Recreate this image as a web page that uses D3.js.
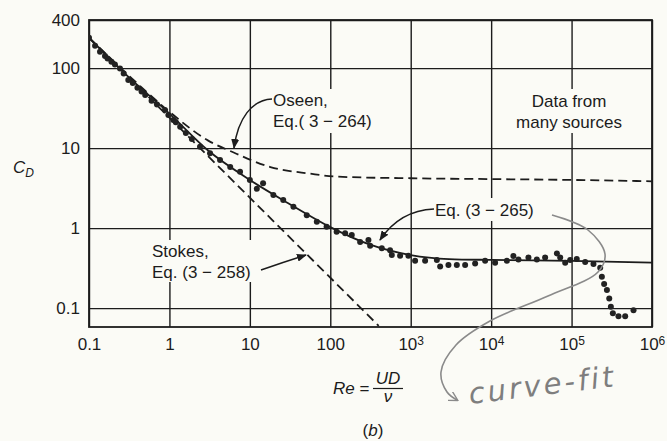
<!DOCTYPE html>
<html>
<head>
<meta charset="utf-8">
<script src="https://cdn.jsdelivr.net/npm/d3@7"></script>
<style>
  body { margin: 0; background: #fbfbf6; }
  svg { display: block; font-family: "Liberation Sans", Arial, Helvetica, sans-serif; }
</style>
</head>
<body>
<script>
var w = 667, h = 441;
var plot = { left: 89, right: 652, top: 20, bottom: 327 };
var bg = '#fbfbf6', ink = '#1c1c1c';

// axis ticks
var reTicks = [0.1, 1, 10, 100, 1e3, 1e4, 1e5, 1e6];
var cdTicks = [0.1, 1, 10, 100, 400];

var dataRe = [0.1, 0.119, 0.137, 0.158, 0.17, 0.19, 0.21, 0.243, 0.27, 0.308, 0.35, 0.4, 0.45, 0.5, 0.6, 0.7, 0.88, 0.97,
  1.12, 1.2, 1.36, 1.6, 1.9, 2.4, 3.2, 4.26, 5.7, 7.55, 10, 12.2, 14.6, 19.6, 26, 34.8, 51, 68, 90, 120,
  153, 185, 235, 298, 313, 437, 554, 582, 738, 936, 1134, 1510, 2113, 2323, 2945, 3743, 4750, 6325,
  8414, 11200, 15700, 18900, 21860, 29100, 37000, 46900, 65700, 72200, 83300, 96100, 116000, 147600,
  187200, 227000, 238000, 254000, 275000, 294000, 308000, 326000, 383000, 464000, 589000];
var dataCd = [240, 190, 160, 142, 132, 120, 111, 99, 86, 71, 65, 57, 51, 46, 39, 35, 30, 26,
  22.4, 21, 18.5, 15.5, 13, 10.4, 8.6, 7.1, 5.8, 5.05, 4.0, 3.1, 3.65, 2.6, 2.24, 1.85, 1.45, 1.2, 1.04, 0.90,
  0.86, 0.82, 0.67, 0.71, 0.60, 0.56, 0.53, 0.46, 0.45, 0.45, 0.39, 0.39, 0.40, 0.33, 0.345, 0.345, 0.345, 0.36,
  0.39, 0.37, 0.39, 0.447, 0.406, 0.43, 0.406, 0.43, 0.483, 0.43, 0.37, 0.40, 0.41, 0.376,
  0.355, 0.32, 0.246, 0.20, 0.168, 0.132, 0.104, 0.086, 0.079, 0.079, 0.094];

// Eq. (3-265) curve fit
var fitRe = [0.1, 0.3, 1, 3, 10, 30, 100, 300, 1e3, 3e3, 1e4, 1e5, 1e6];
var fitCd = [240, 80, 27, 9.4, 4.0, 2.05, 1.03, 0.63, 0.46, 0.41, 0.40, 0.39, 0.37];

// Oseen, Eq. (3-264)
var oseenRe = [0.1, 0.3, 1, 3, 6, 18, 56, 120, 1e3, 1e4, 1e5, 1e6];
var oseenCd = [240, 84, 28.5, 12.5, 9, 5.8, 4.8, 4.4, 4.2, 4.1, 4.0, 3.85];

// Stokes, Eq. (3-258)
var stokesRe = [0.1, 400];
var stokesCd = [240, 0.06];

var svg = d3.select('body').append('svg').attr('width', w).attr('height', h);

var x = d3.scaleLog().domain([0.1, 1e6]).range([plot.left, plot.right]);
var y = d3.scaleLog().domain([0.058, 400]).range([plot.bottom, plot.top]);

svg.append('defs').append('clipPath').attr('id', 'clip')
  .append('rect')
  .attr('x', plot.left).attr('y', plot.top)
  .attr('width', plot.right - plot.left).attr('height', plot.bottom - plot.top);

svg.select('defs').append('marker')
  .attr('id', 'arrow')
  .attr('viewBox', '0 0 10 8')
  .attr('refX', 9).attr('refY', 4)
  .attr('markerWidth', 10).attr('markerHeight', 8)
  .attr('markerUnits', 'userSpaceOnUse')
  .attr('orient', 'auto')
  .append('path').attr('d', 'M0,0 L10,4 L0,8 z').style('fill', ink);

svg.select('defs').append('marker')
  .attr('id', 'pencilArrow')
  .attr('viewBox', '0 0 10 10')
  .attr('refX', 8).attr('refY', 5)
  .attr('markerWidth', 10).attr('markerHeight', 10)
  .attr('markerUnits', 'userSpaceOnUse')
  .attr('orient', 'auto')
  .append('path').attr('d', 'M0,0 L9,5 L0,10').style('fill', 'none').style('stroke', '#8a8a8a').style('stroke-width', 1.4);

// grid + tick labels
var xAxis = d3.axisBottom(x)
  .tickValues(reTicks)
  .tickSize(-(plot.bottom - plot.top))
  .tickSizeOuter(0)
  .tickPadding(11);

var gx = svg.append('g')
  .attr('transform', 'translate(0,' + plot.bottom + ')')
  .call(xAxis);

gx.selectAll('.tick text').each(function (d) {
  var t = d3.select(this);
  if (d >= 1000) {
    t.text('10');
    t.append('tspan').attr('dy', '-0.45em').attr('font-size', '12px').text(Math.round(Math.log10(d)));
  } else {
    t.text(d3.format('~g')(d));
  }
});

var yAxis = d3.axisLeft(y)
  .tickValues(cdTicks)
  .tickSize(-(plot.right - plot.left))
  .tickSizeOuter(0)
  .tickPadding(9)
  .tickFormat(d3.format('~g'));

var gy = svg.append('g')
  .attr('transform', 'translate(' + plot.left + ',0)')
  .call(yAxis);

[gx, gy].forEach(function (g) {
  g.select('.domain').remove();
  g.selectAll('.tick line').style('stroke', ink).style('stroke-width', 1.4);
  g.selectAll('.tick text').style('fill', ink).style('font-size', '17px');
});

svg.append('rect')
  .attr('x', plot.left).attr('y', plot.top)
  .attr('width', plot.right - plot.left).attr('height', plot.bottom - plot.top)
  .style('fill', 'none').style('stroke', ink).style('stroke-width', 1.8);

// white-out behind the labels (grid is broken there in the figure)
var boxes = [
  [268, 89, 120, 44],
  [512, 89, 115, 44],
  [148, 240, 116, 42],
  [430, 198, 122, 23]
];
svg.selectAll('rect.labelbg')
  .data(boxes)
  .enter()
  .append('rect')
  .attr('class', 'labelbg')
  .attr('x', function (d) { return d[0]; })
  .attr('y', function (d) { return d[1]; })
  .attr('width', function (d) { return d[2]; })
  .attr('height', function (d) { return d[3]; })
  .style('fill', bg);

var lines = svg.append('g').attr('clip-path', 'url(#clip)');

function pts(xs, ys) {
  return xs.map(function (v, i) { return [v, ys[i]]; });
}

var line = d3.line()
  .x(function (d) { return x(d[0]); })
  .y(function (d) { return y(d[1]); })
  .curve(d3.curveMonotoneX);

lines.append('path')
  .datum(pts(stokesRe, stokesCd))
  .attr('d', line)
  .style('fill', 'none').style('stroke', ink).style('stroke-width', 1.8)
  .style('stroke-dasharray', '9,5');

lines.append('path')
  .datum(pts(oseenRe, oseenCd))
  .attr('d', line)
  .style('fill', 'none').style('stroke', ink).style('stroke-width', 1.8)
  .style('stroke-dasharray', '9,5');

lines.append('path')
  .datum(pts(fitRe, fitCd))
  .attr('d', line)
  .style('fill', 'none').style('stroke', ink).style('stroke-width', 1.8);

lines.selectAll('circle.obs')
  .data(pts(dataRe, dataCd))
  .enter()
  .append('circle')
  .attr('class', 'obs')
  .attr('cx', function (d) { return x(d[0]); })
  .attr('cy', function (d) { return y(d[1]); })
  .attr('r', 3)
  .style('fill', '#222');

// annotations
function label(tx, ty, rows) {
  var t = svg.append('text')
    .attr('x', tx).attr('y', ty)
    .style('font-size', '17px').style('fill', ink);
  rows.forEach(function (r, i) {
    t.append('tspan').attr('x', tx).attr('dy', i === 0 ? 0 : 20.5).text(r);
  });
  return t;
}

label(273, 106, ['Oseen,', 'Eq.( 3 \u2212 264)']);
label(152, 257, ['Stokes,', 'Eq. (3 \u2212 258)']);
label(435, 216, ['Eq. (3 \u2212 265)']);
label(569, 107, ['Data from', 'many sources']).attr('text-anchor', 'middle')
  .selectAll('tspan').attr('x', 569);

function arrow(d) {
  svg.append('path')
    .attr('d', d)
    .style('fill', 'none').style('stroke', ink).style('stroke-width', 1.5)
    .attr('marker-end', 'url(#arrow)');
}
arrow('M272,99 C252,100 238,118 234,148');
arrow('M261,270 Q284,262 306,255');
arrow('M434,209 C410,210 392,222 380,240');

// axis titles
var cd = svg.append('text').attr('x', 13).attr('y', 173)
  .style('font-size', '17px').style('font-style', 'italic').style('fill', ink);
cd.append('tspan').text('C');
cd.append('tspan').attr('dy', 4).style('font-size', '12px').text('D');

svg.append('text').attr('x', 333).attr('y', 394)
  .style('font-size', '17px').style('fill', ink)
  .html('<tspan font-style="italic">Re</tspan> =');
svg.append('text').attr('x', 388).attr('y', 384).attr('text-anchor', 'middle')
  .style('font-size', '17px').style('font-style', 'italic').style('fill', ink).text('UD');
svg.append('line').attr('x1', 373).attr('x2', 403).attr('y1', 388.5).attr('y2', 388.5)
  .style('stroke', ink).style('stroke-width', 1.2);
svg.append('text').attr('x', 388).attr('y', 402).attr('text-anchor', 'middle')
  .style('font-size', '17px').style('font-style', 'italic').style('fill', ink).text('\u03bd');

svg.append('text').attr('x', 373).attr('y', 436).attr('text-anchor', 'middle')
  .style('font-size', '17px').style('fill', ink)
  .html('(<tspan font-style="italic">b</tspan>)');

// pencil note on the scan
var pencil = [[552, 215], [588, 230], [605, 254], [598, 272], [548, 296], [490, 321], [456, 345], [441, 372], [447, 392], [457, 400]];
svg.append('path')
  .datum(pencil)
  .attr('d', d3.line().curve(d3.curveCatmullRom))
  .style('fill', 'none').style('stroke', '#8a8a8a').style('stroke-width', 1.6)
  .attr('marker-end', 'url(#pencilArrow)');

svg.append('text')
  .attr('transform', 'translate(470,404) rotate(-7)')
  .style('font-family', '"DejaVu Sans", sans-serif')
  .style('font-size', '29px').style('font-style', 'italic').style('letter-spacing', '3px')
  .style('fill', '#7e7e7e')
  .text('curve-fit');
</script>
</body>
</html>
